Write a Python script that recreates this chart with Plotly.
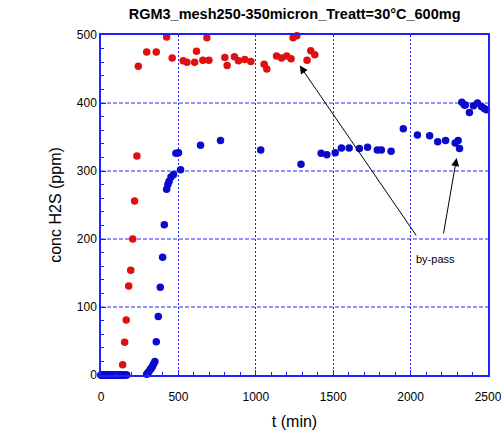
import plotly.graph_objects as go

title_text = "RGM3_mesh250-350micron_Treatt=30°C_600mg"

red_t = [0, 20, 40, 60, 80, 100, 120, 140, 153, 163, 179, 192, 205, 217, 232, 241, 295, 357, 424, 460,
         531, 555, 605, 617, 658, 684, 697, 800, 815, 862, 888, 929, 968, 1054, 1071, 1134, 1166, 1200,
         1228, 1241, 1265, 1331, 1355, 1381]
red_ppm = [0, 0, 0, 0, 0, 0, 0, 15, 48, 81, 131, 154, 200, 256, 322, 454, 475, 475, 497, 466,
           462, 460, 460, 476, 463, 496, 463, 467, 455, 468, 462, 464, 461, 457, 450, 469, 466, 469,
           465, 496, 499, 463, 477, 471]

blue_t = [0, 8, 16, 24, 32, 40, 48, 56, 64, 72, 80, 88, 96, 104, 112, 120, 128, 136, 144, 152, 160, 166,
          295, 302, 310, 318, 325, 333, 340, 348, 357, 370, 383, 398, 409, 424, 432, 440, 452, 469, 484,
          501, 514, 643, 772, 1032, 1292, 1422, 1459, 1513, 1553, 1603, 1669, 1722, 1785, 1811, 1874,
          1953, 2044, 2123, 2175, 2226, 2288, 2307, 2316, 2331, 2347, 2353, 2380, 2406, 2432, 2458, 2476, 2490]
blue_ppm = [0, 0, 0, 0, 0, 0, 0, 0, 0, 0, 0, 0, 0, 0, 0, 0, 0, 0, 0, 0, 0, 0,
            1, 3, 5, 8, 10, 13, 16, 20, 49, 86, 129, 173, 221, 273, 280, 285, 291, 295, 326,
            327, 302, 338, 345, 331, 310, 326, 324, 327, 334, 334, 333, 335, 331, 331, 329,
            362, 353, 352, 343, 345, 341, 345, 333, 401, 397, 397, 386, 396, 400, 395, 392, 390]

x_ticks = [0, 500, 1000, 1500, 2000, 2500]
y_ticks = [0, 100, 200, 300, 400, 500]

BLUE_AX = "#1f1fff"

fig = go.Figure()

# horizontal dashed grid lines at the y tick values
for yv in y_ticks[1:-1]:
    fig.add_hline(y=yv, line=dict(color="#2a2aff", width=1.2, dash="4px,2px"), layer="below")

fig.add_trace(go.Scatter(x=red_t, y=red_ppm, mode="markers",
                         marker=dict(color="#e01010", size=7.5), cliponaxis=False, showlegend=False))
fig.add_trace(go.Scatter(x=blue_t, y=blue_ppm, mode="markers",
                         marker=dict(color="#0a0acc", size=7.5), cliponaxis=False, showlegend=False))

# arrows
fig.add_annotation(x=1284, y=455, ax=2043, ay=203, xref="x", yref="y", axref="x", ayref="y",
                   text="", showarrow=True, arrowhead=2, arrowsize=1.6, arrowwidth=1, arrowcolor="black")
fig.add_annotation(x=2297, y=319, ax=2211, ay=206, xref="x", yref="y", axref="x", ayref="y",
                   text="", showarrow=True, arrowhead=2, arrowsize=1.6, arrowwidth=1, arrowcolor="black")
fig.add_annotation(x=2020, y=170, xref="x", yref="y", text="by-pass", showarrow=False,
                   xanchor="left", yanchor="middle",
                   font=dict(family="Liberation Sans, Arial", size=11, color="black"))

fig.update_layout(
    width=501, height=436,
    margin=dict(l=101, r=13, t=35, b=61),
    paper_bgcolor="white", plot_bgcolor="white",
    title=dict(text="<b>" + title_text + "</b>", x=0.588, xanchor="center", y=0.967, yanchor="middle",
               font=dict(family="Liberation Sans, Arial", size=14.5, color="black")),
    font=dict(family="Liberation Sans, Arial", color="black"),
    xaxis=dict(range=[0, 2500], tickvals=x_ticks, ticktext=[str(v) for v in x_ticks],
               showgrid=True, gridcolor=BLUE_AX, griddash="2px,2px", gridwidth=1,
               showline=True, linecolor=BLUE_AX, linewidth=1.5, mirror=True,
               ticks="inside", ticklen=5, tickcolor=BLUE_AX, ticklabelstandoff=10,
               ticklabeloverflow="allow",
               minor=dict(ticks="inside", ticklen=3, tickcolor=BLUE_AX, dtick=100),
               zeroline=False, tickfont=dict(size=12), automargin=False,
               title=dict(text="t (min)", font=dict(size=16), standoff=13)),
    yaxis=dict(range=[0, 500], tickvals=y_ticks, ticktext=[str(v) for v in y_ticks],
               showgrid=False,
               showline=True, linecolor=BLUE_AX, linewidth=1.5, mirror=True,
               ticks="inside", ticklen=5, tickcolor=BLUE_AX,
               minor=dict(ticks="inside", ticklen=3, tickcolor=BLUE_AX, dtick=20),
               zeroline=False, tickfont=dict(size=12), automargin=False,
               title=dict(text="conc H2S (ppm)", font=dict(size=16), standoff=11)),
)

fig.write_html("out.html", config={"displayModeBar": False},
               post_script="document.body.style.margin='0px';document.body.style.overflow='hidden';")
